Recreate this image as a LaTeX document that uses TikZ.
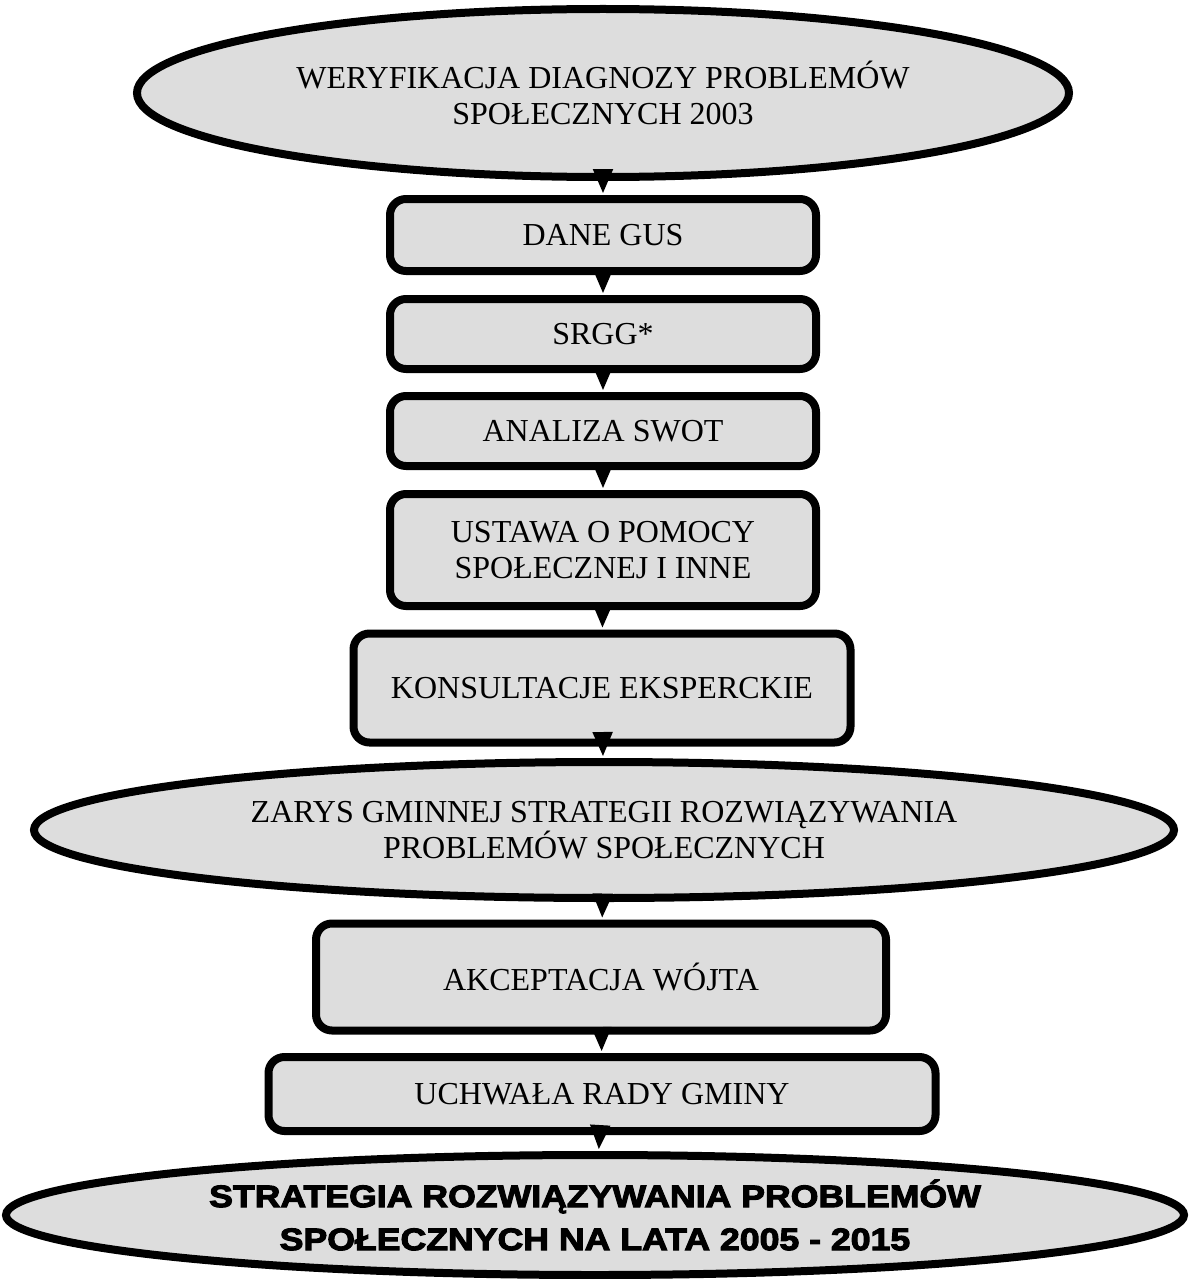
\documentclass[tikz,border=0pt]{standalone}
\usepackage{fontspec}
\setmainfont{Liberation Serif}
\newfontfamily\heavyfont[FakeBold=3.5,FakeStretch=1.15]{Liberation Sans Bold}
\usetikzlibrary{shapes.geometric,arrows.meta}
\definecolor{boxgray}{HTML}{DDDDDD}
\begin{document}
\begin{tikzpicture}[x=.5pt,y=-.5pt,
  box/.style={draw,fill=boxgray,line width=4pt,rounded corners=8pt,inner sep=0pt,
    align=center,font=\fontsize{16}{18}\selectfont},
  oval/.style={ellipse,draw,fill=boxgray,line width=4pt,inner sep=0pt,
    align=center,font=\fontsize{16}{18}\selectfont},
  arr/.style={line width=1pt,-{Triangle[width=10pt,length=12pt]},shorten >=1pt}]
\useasboundingbox (0,0) rectangle (1190,1279);
\node[oval,minimum width=466pt,minimum height=84pt] (verif) at (603,93)
  {WERYFIKACJA DIAGNOZY PROBLEMÓW\\SPOŁECZNYCH 2003};
\node[box,minimum width=213pt,minimum height=36pt] (gus) at (603,235) {DANE GUS};
\node[box,minimum width=213pt,minimum height=35pt] (srgg) at (603,334) {SRGG*};
\node[box,minimum width=213pt,minimum height=35pt] (swot) at (603,431) {ANALIZA SWOT};
\node[box,minimum width=213pt,minimum height=56pt] (ustawa) at (603,550)
  {USTAWA O POMOCY\\SPOŁECZNEJ I INNE};
\node[box,minimum width=248.5pt,minimum height=54.5pt] (konsult) at (602,688)
  {KONSULTACJE EKSPERCKIE};
\node[oval,minimum width=570pt,minimum height=68pt] (zarys) at (604,830)
  {ZARYS GMINNEJ STRATEGII ROZWIĄZYWANIA\\PROBLEMÓW SPOŁECZNYCH};
\node[box,minimum width=285pt,minimum height=53.5pt] (wojt) at (601,977) {AKCEPTACJA WÓJTA};
\node[box,minimum width=333.5pt,minimum height=37pt] (rada) at (602,1094) {UCHWAŁA RADY GMINY};
\node[oval,minimum width=589pt,minimum height=60pt,
  font=\heavyfont\fontsize{15.5}{21.5}\selectfont] (strat) at (595,1215)
  {STRATEGIA ROZWIĄZYWANIA PROBLEMÓW\\SPOŁECZNYCH NA LATA 2005 - 2015};
% strzalki
\draw[arr] (verif) -- (gus);
\draw[arr] (gus) -- (srgg);
\draw[arr] (srgg) -- (swot);
\draw[arr] (swot) -- (ustawa);
\draw[arr] (ustawa) -- (konsult);
\draw[arr] (konsult) -- (zarys);
\draw[arr] (zarys) -- (wojt);
\draw[arr] (wojt) -- (rada);
\draw[arr] (rada) -- (strat);
\end{tikzpicture}
\end{document}
